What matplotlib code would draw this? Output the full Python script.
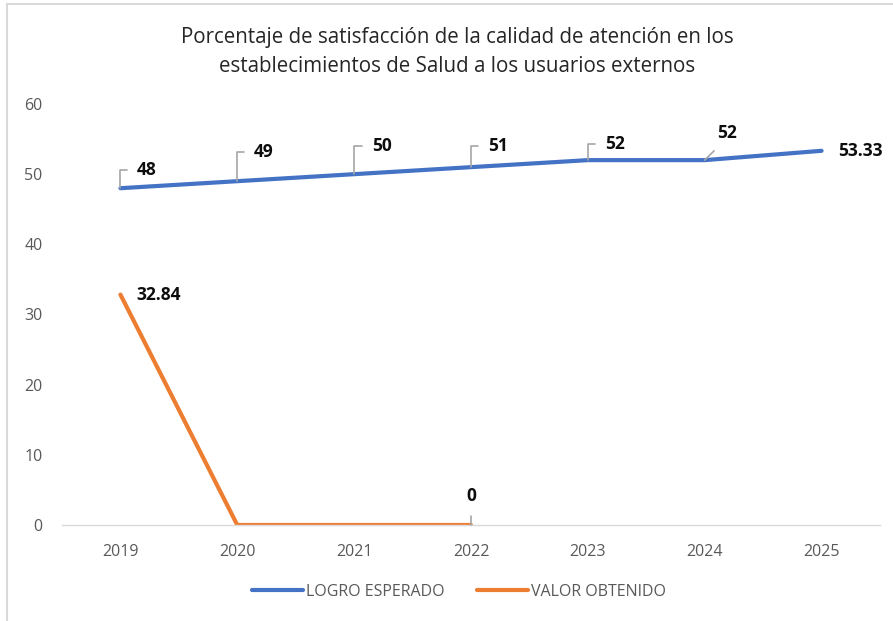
import matplotlib.pyplot as plt
from matplotlib.lines import Line2D

# chart data
years = ['2019', '2020', '2021', '2022', '2023', '2024', '2025']
logro_esperado = [48, 49, 50, 51, 52, 52, 53.33]
valor_obtenido = [32.84, 0, 0, 0]
logro_labels = ['48', '49', '50', '51', '52', '52', '53.33']

blue = '#4472C4'
orange = '#ED7D31'
grey_text = '#595959'

plt.rcParams['font.family'] = ['Open Sans', 'DejaVu Sans']

fig = plt.figure(figsize=(8.93, 6.21), dpi=100)
ax = fig.add_axes([62 / 893, 96 / 621, 818 / 893, 421 / 621])

x = list(range(len(years)))
ax.plot(x, logro_esperado, color=blue, lw=3, solid_capstyle='round',
        label='LOGRO ESPERADO')
ax.plot(x[:len(valor_obtenido)], valor_obtenido, color=orange, lw=3,
        solid_capstyle='round', label='VALOR OBTENIDO')

ax.set_xlim(-0.5, len(years) - 0.5)
ax.set_ylim(0, 60)
ax.set_xticks(x)
ax.set_xticklabels(years)
ax.set_yticks(range(0, 61, 10))
ax.tick_params(length=0, labelsize=11.5, colors=grey_text)
ax.tick_params(axis='x', pad=14)
ax.tick_params(axis='y', pad=14)
for s in ['top', 'right', 'left']:
    ax.spines[s].set_visible(False)
ax.spines['bottom'].set_color('#D9D9D9')
ax.spines['bottom'].set_linewidth(1)

# data labels with leader lines (offsets in pixels)
label_offsets = [(16, 18), (16, 29), (18, 28), (17, 21), (17, 16), (22, 27), (17, 0)]
lbl_kw = dict(fontsize=12.5, fontweight='bold', color='#0D0D0D')
for i, (val, txt) in enumerate(zip(logro_esperado, logro_labels)):
    dx, dy = label_offsets[i]
    if i == 6:
        ax.annotate(txt, (i, val), xytext=(dx, dy), textcoords='offset pixels',
                    ha='left', va='center', **lbl_kw)
    elif i == 5:
        ax.annotate(txt, (i, val), xytext=(dx, dy), textcoords='offset pixels',
                    ha='center', va='center', **lbl_kw,
                    arrowprops=dict(arrowstyle='-', color='#A6A6A6', lw=1.2,
                                    relpos=(0.3, 0), shrinkA=6, shrinkB=0))
    else:
        ax.annotate(txt, (i, val), xytext=(dx, dy), textcoords='offset pixels',
                    ha='left', va='center', **lbl_kw,
                    arrowprops=dict(arrowstyle='-', color='#A6A6A6', lw=1.2,
                                    connectionstyle='angle,angleA=0,angleB=90,rad=0',
                                    relpos=(0, 0.5), shrinkA=5, shrinkB=0))

ax.annotate('32.84', (0, valor_obtenido[0]), xytext=(16, 0), textcoords='offset pixels',
            ha='left', va='center', **lbl_kw)
ax.annotate('0', (3, valor_obtenido[3]), xytext=(0, 29), textcoords='offset pixels',
            ha='center', va='center', **lbl_kw,
            arrowprops=dict(arrowstyle='-', color='#A6A6A6', lw=1.2,
                            relpos=(0.5, 0), shrinkA=6, shrinkB=0))

fig.text(457 / 893, 1 - 52 / 621,
         'Porcentaje de satisfacción de la calidad de atención en los\n'
         'establecimientos de Salud a los usuarios externos',
         ha='center', va='center', fontsize=14.8, color='#262626', linespacing=1.55)

fig.legend(handles=[Line2D([], [], color=blue, lw=3, solid_capstyle='round'),
                    Line2D([], [], color=orange, lw=3, solid_capstyle='round')],
           labels=['LOGRO ESPERADO', 'VALOR OBTENIDO'],
           loc='center', bbox_to_anchor=(459 / 893, 1 - 592 / 621), ncol=2,
           frameon=False, fontsize=11.5, handlelength=3.2, handletextpad=0.2,
           columnspacing=2.0, labelcolor=grey_text)

# chart border
fig.add_artist(Line2D([7 / 893, 7 / 893], [0, 1 - 4 / 621], color='#D9D9D9', lw=1.5,
                      transform=fig.transFigure))
fig.add_artist(Line2D([7 / 893, 1], [1 - 4 / 621, 1 - 4 / 621], color='#D9D9D9', lw=1.5,
                      transform=fig.transFigure))

fig.savefig('out.png', dpi=100)
